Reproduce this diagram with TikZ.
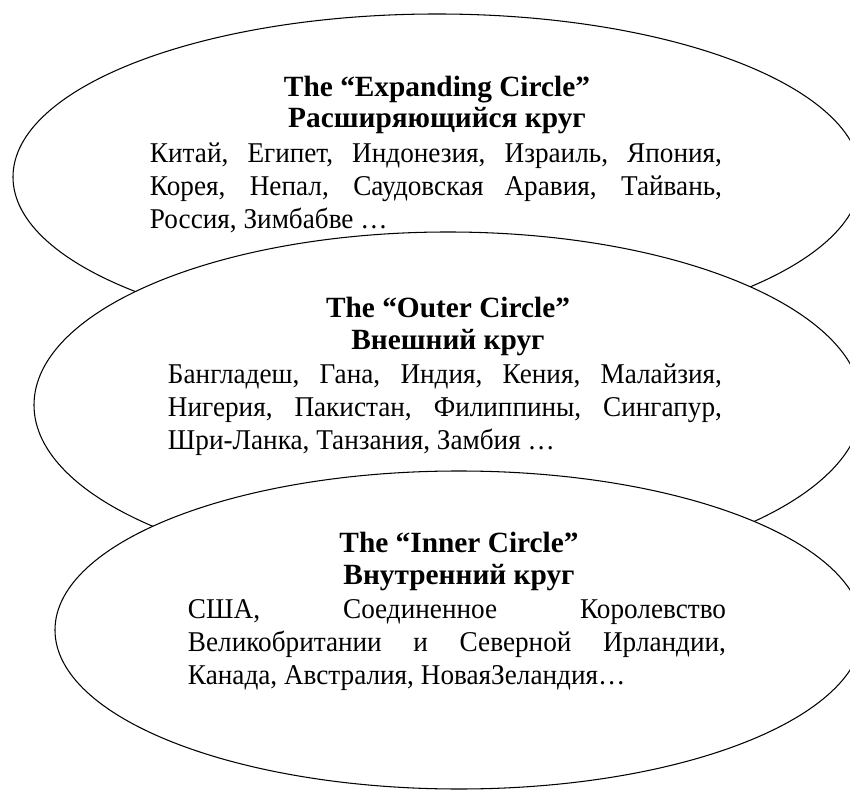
\documentclass[tikz,border=0pt]{standalone}
\usepackage{fontspec}
\setmainfont{Liberation Serif}
\newfontfamily\narrowserif{Liberation Serif}[FakeStretch=0.95]
\usepackage{tikz}
\usetikzlibrary{shapes.geometric}
\tikzset{
  ring/.style={draw, ellipse, fill=white, line width=0.6pt, inner sep=0pt, outer sep=0pt},
  heading/.style={align=center, font=\bfseries\fontsize{16.7}{18.2}\selectfont},
  blurb/.style={align=justify, font=\narrowserif\fontsize{16.3}{18.7}\selectfont}
}

\begin{document}
\begin{tikzpicture}[x=0.2mm, y=-0.2mm]
  \useasboundingbox (0,0) rectangle (850,794);
  \clip (0,0) rectangle (850,794);

  % expanding circle
  \node[ring, minimum width=169.6mm, minimum height=65.2mm] (expanding) at (437,177) {};
  \node[heading] (expandinghead) at (437,105) {The “Expanding Circle”\\Расширяющийся круг};
  \node[blurb, text width=114.4mm] (expandingbody) at (436,188)
    {Китай, Египет, Индонезия, Израиль, Япония,\linebreak
     Корея, Непал, Саудовская Аравия, Тайвань,\linebreak
     Россия, Зимбабве …};

  % outer circle
  \node[ring, minimum width=165.6mm, minimum height=69.2mm] (outer) at (448,405) {};
  \node[heading] (outerhead) at (448,326) {The “Outer Circle”\\Внешний круг};
  \node[blurb, text width=110.8mm] (outerbody) at (445,410)
    {Бангладеш, Гана, Индия, Кения, Малайзия,\linebreak
     Нигерия, Пакистан, Филиппины, Сингапур,\linebreak
     Шри-Ланка, Танзания, Замбия …};

  % inner circle
  \node[ring, minimum width=161.6mm, minimum height=63.6mm] (inner) at (459,630) {};
  \node[heading] (innerhead) at (459,561) {The “Inner Circle”\\Внутренний круг};
  \node[blurb, text width=107.6mm] (innerbody) at (457,645)
    {США, Соединенное Королевство\linebreak
     Великобритании и Северной Ирландии,\linebreak
     Канада, Австралия, НоваяЗеландия…};
\end{tikzpicture}
\end{document}
